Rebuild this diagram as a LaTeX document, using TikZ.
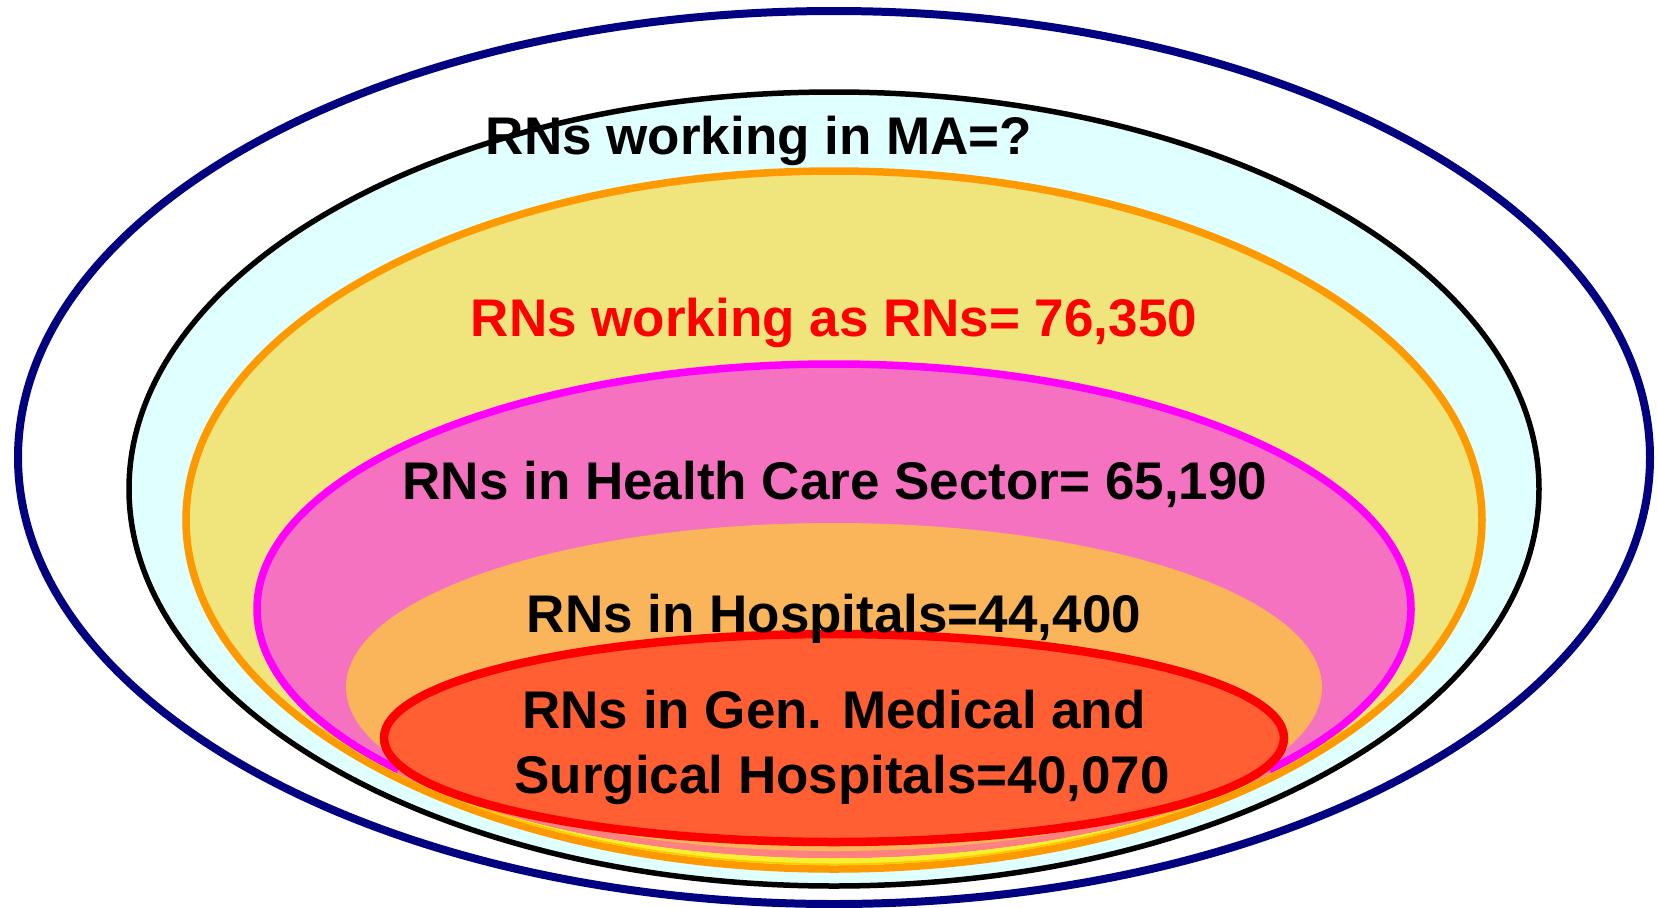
\documentclass[tikz,border=0pt]{standalone}
\usepackage{fontspec}
\setmainfont{Liberation Sans}
\definecolor{navyc}{HTML}{000080}
\definecolor{cyanfill}{HTML}{E0FFFF}
\definecolor{orangec}{HTML}{FF9900}
\definecolor{khakifill}{HTML}{F0E47C}
\definecolor{magc}{HTML}{FF00FF}
\definecolor{pinkfill}{HTML}{F472C0}
\definecolor{lorange}{HTML}{FAB55B}
\definecolor{salmonc}{HTML}{FF8080}
\definecolor{yellowc}{HTML}{F5F032}
\definecolor{goldc}{HTML}{FFC800}
\definecolor{redfill}{HTML}{FF5F32}
\definecolor{redc}{HTML}{FF0000}
\begin{document}
\begin{tikzpicture}[x=1pt,y=-1pt,
  lbl/.style={font=\fontsize{53pt}{65pt}\selectfont\bfseries, inner sep=0pt, anchor=base, align=center}]
\useasboundingbox (0,0) rectangle (1658,908);
\fill[white] (0,0) rectangle (1658,908);
% outer: RNs in MA
\draw[navyc, line width=8pt, fill=white] (834,457.5) ellipse [x radius=816pt, y radius=446.5pt];
% RNs working in MA
\draw[black, line width=5.5pt, fill=cyanfill] (834,489) ellipse [x radius=705pt, y radius=397pt];
% RNs working as RNs
\draw[orangec, line width=7.5pt, fill=khakifill] (834,520) ellipse [x radius=648pt, y radius=349pt];
\begin{scope}
  \clip (834,520) ellipse [x radius=644.25pt, y radius=345.25pt];
  \draw[yellowc, line width=25pt] (834,520) ++(218:648pt and 349pt) arc [start angle=218, end angle=322, x radius=648pt, y radius=349pt];
  \draw[goldc, line width=11pt] (834,520) ++(218:648pt and 349pt) arc [start angle=218, end angle=322, x radius=648pt, y radius=349pt];
\end{scope}
% health care sector
\draw[magc, line width=7.5pt, fill=pinkfill] (834,609) ellipse [x radius=577pt, y radius=245pt];
\draw[salmonc, line width=8pt] (834,609) ++(221:577pt and 245pt) arc [start angle=221, end angle=319, x radius=577pt, y radius=245pt];
% hospitals
\fill[lorange] (834,687) ellipse [x radius=488pt, y radius=164pt];
% general medical and surgical hospitals
\draw[redc, line width=8.5pt, fill=redfill] (834,738) ellipse [x radius=450pt, y radius=104pt];
% labels
\node[lbl] (ma) at (759,154) {RNs working in MA=?};
\node[lbl, text=redc] (asrn) at (834,336) {RNs working as RNs= 76,350};
\node[lbl] (hcs) at (835,499) {RNs in Health Care Sector= 65,190};
\node[lbl] (hosp) at (834,632) {RNs in Hospitals=44,400};
\node[lbl] (gms) at (834,793) {RNs in Gen. Medical and\\\hspace*{16pt}Surgical Hospitals=40,070};
\end{tikzpicture}
\end{document}
